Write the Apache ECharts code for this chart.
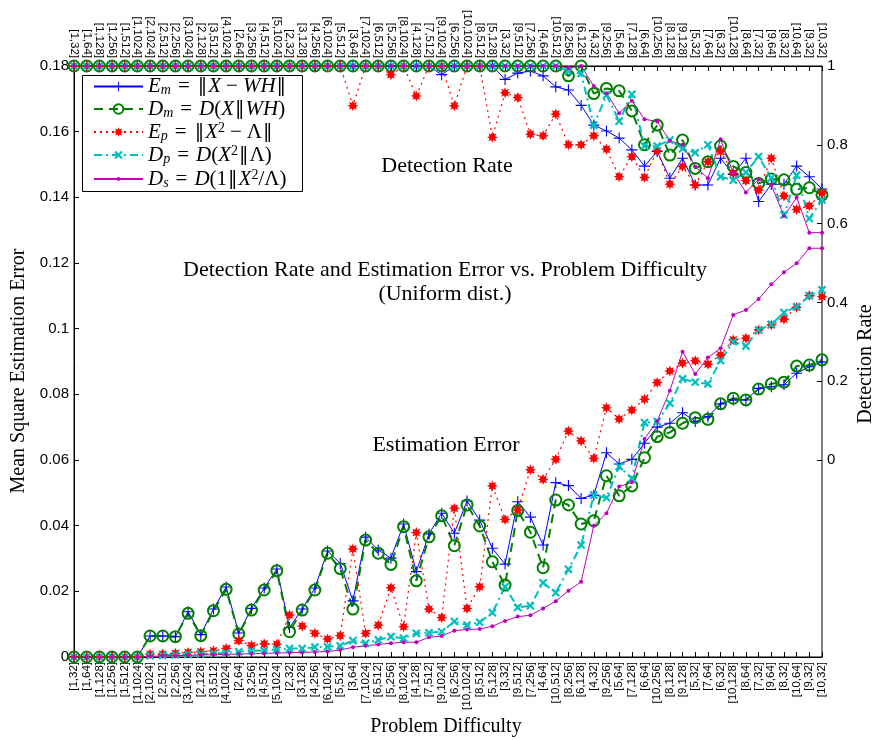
<!DOCTYPE html>
<html><head><meta charset="utf-8">
<script src="https://cdn.jsdelivr.net/npm/echarts@6/dist/echarts.min.js"></script>
<style>html,body{margin:0;padding:0;background:#fff}#c{width:876px;height:740px}</style>
</head><body><div id="c"></div>
<script>
const categories = ['[1,32]','[1,64]','[1,128]','[1,256]','[1,512]','[1,1024]','[2,1024]','[2,512]','[2,256]','[3,1024]',
'[2,128]','[3,512]','[4,1024]','[2,64]','[3,256]','[4,512]','[5,1024]','[2,32]','[3,128]','[4,256]',
'[6,1024]','[5,512]','[3,64]','[7,1024]','[6,512]','[5,256]','[8,1024]','[4,128]','[7,512]','[9,1024]',
'[6,256]','[10,1024]','[8,512]','[5,128]','[3,32]','[9,512]','[7,256]','[4,64]','[10,512]','[8,256]',
'[6,128]','[4,32]','[9,256]','[5,64]','[7,128]','[6,64]','[10,256]','[8,128]','[9,128]','[5,32]',
'[7,64]','[6,32]','[10,128]','[8,64]','[7,32]','[9,64]','[8,32]','[10,64]','[9,32]','[10,32]'];

// Mean square estimation error
const mseEm = [0,0,0,0,0,0,.0064,.0064,.0062,.0138,
.0068,.0146,.0213,.0073,.0148,.0210,.0268,.0090,.0146,.0210,
.0323,.0285,.0171,.0365,.0326,.0301,.0405,.0260,.0375,.0438,
.0377,.0475,.0417,.0331,.0283,.0473,.0426,.0341,.0531,.0522,
.0483,.0493,.0622,.0588,.0602,.0651,.0700,.0712,.0744,.0717,
.0732,.0771,.0783,.0783,.0818,.0823,.0829,.0864,.0884,.0899];
const mseDm = [0,0,0,0,0,0,.0064,.0064,.0062,.0133,
.0065,.0141,.0206,.0070,.0143,.0204,.0263,.0077,.0143,.0204,
.0316,.0269,.0146,.0356,.0316,.0282,.0397,.0232,.0366,.0430,
.0339,.0463,.0399,.0290,.0219,.0446,.0380,.0272,.0478,.0463,
.0405,.0415,.0552,.0491,.0521,.0607,.0671,.0684,.0712,.0729,
.0724,.0771,.0788,.0783,.0816,.0832,.0837,.0886,.0889,.0905];
const mseEp = [0,0,0,0,0,0,.0009,.0009,.0011,.0014,
.0016,.0019,.0026,.0050,.0035,.0040,.0039,.0128,.0094,.0072,
.0055,.0065,.0329,.0072,.0097,.0211,.0092,.0379,.0146,.0120,
.0453,.0148,.0214,.0521,.0419,.0448,.0570,.0541,.0602,.0688,
.0658,.0605,.0759,.0725,.0752,.0785,.0836,.0871,.0895,.0902,
.0892,.0920,.0966,.0971,.0996,.1011,.1029,.1065,.1101,.1097];
const mseDp = [0,0,0,0,0,0,.0004,.0005,.0006,.0008,
.0009,.0011,.0013,.0016,.0019,.0020,.0023,.0026,.0026,.0030,
.0031,.0034,.0050,.0042,.0052,.0062,.0057,.0072,.0074,.0077,
.0108,.0097,.0106,.0135,.0214,.0151,.0156,.0226,.0196,.0267,
.0341,.0493,.0485,.0580,.0544,.0714,.0717,.0773,.0847,.0837,
.0832,.0903,.0960,.0947,.0996,.1013,.1049,.1067,.1100,.1118];
const mseDs = [0,0,0,0,0,0,.0002,.0003,.0004,.0005,
.0006,.0007,.0008,.0009,.0010,.0011,.0012,.0013,.0014,.0015,
.0017,.0021,.0030,.0034,.0038,.0042,.0045,.0045,.0060,.0064,
.0080,.0084,.0085,.0094,.0110,.0123,.0127,.0148,.0170,.0202,
.0229,.0400,.0438,.0519,.0532,.0664,.0719,.0811,.0930,.0862,
.0912,.0940,.1042,.1057,.1090,.1135,.1172,.1199,.1245,.1245];

// Detection rate
const detEm = [1,1,1,1,1,1,1,1,1,1, 1,1,1,1,1,1,1,1,1,1, 1,1,1,1,1,1,1,1,1,.978,
1,1,1,1,.966,.982,.987,.975,.947,.939, .90,.85,.835,.817,.787,.746,.783,.715,.766,.698,
.698,.766,.725,.766,.656,.70,.70,.746,.719,.688];
const detDm = [1,1,1,1,1,1,1,1,1,1, 1,1,1,1,1,1,1,1,1,1, 1,1,1,1,1,1,1,1,1,1,
1,1,1,1,1,1,1,1,1,.975, 1,.93,.943,.937,.886,.80,.85,.774,.812,.740,
.757,.797,.745,.73,.702,.713,.711,.687,.691,.673];
const detEp = [1,1,1,1,1,1,1,1,1,1, 1,1,1,1,1,1,1,1,1,1, 1,1,.899,1,1,.978,1,.924,1,1,
.899,1,1,.819,.932,.920,.827,.823,.878,.80, .80,.823,.789,.719,.770,.717,.785,.700,.745,.698,
.757,.783,.728,.709,.685,.766,.670,.636,.645,.677];
const detDp = [1,1,1,1,1,1,1,1,1,1, 1,1,1,1,1,1,1,1,1,1, 1,1,1,1,1,1,1,1,1,1,
1,1,1,1,1,1,1,1,1,.986, .981,.85,.926,.86,.928,.797,.797,.812,.79,.78,
.80,.719,.71,.73,.77,.716,.622,.723,.613,.66];
const detDs = [1,1,1,1,1,1,1,1,1,1, 1,1,1,1,1,1,1,1,1,1, 1,1,1,1,1,1,1,1,1,1,
1,1,1,1,1,1,1,1,1,.995, 1,.949,.931,.88,.912,.865,.859,.81,.80,.745,
.715,.814,.729,.679,.712,.698,.619,.666,.577,.577];

const mseTicks = {min:0, max:0.18, interval:0.02};
const detTicks = {min:0, max:1, interval:0.2};

const names = ['Em','Dm','Ep','Dp','Ds'];
const legendText = {
  Em:'{i|E}{sub|m}{op|=}{bar|\u2016}{i|X}{mi|\u2212}{i|WH}{bar|\u2016}',
  Dm:'{i|D}{sub|m}{op|=}{i|D}{n|(}{i|X}{bar|\u2016}{i|WH}{n|)}',
  Ep:'{i|E}{sub|p}{op|=}{bar|\u2016}{i|X}{sup|2}{mi|\u2212}{n|\u039B}{bar|\u2016}',
  Dp:'{i|D}{sub|p}{op|=}{i|D}{n|(}{i|X}{sup|2}{bar|\u2016}{n|\u039B)}',
  Ds:'{i|D}{sub|s}{op|=}{i|D}{n|(1}{bar|\u2016}{i|X}{sup|2}{n|/\u039B)}'
};

const plusPath = 'path://M4.5,0H5.5V4.5H10V5.5H5.5V10H4.5V5.5H0V4.5H4.5Z';
const thickPlus = 'path://M3.9,0H6.1V3.9H10V6.1H6.1V10H3.9V6.1H0V3.9H3.9Z';
const starPath = 'path://M20,10L15.08,12.1L17.07,17.07L12.1,15.08L10,20L7.9,15.08L2.93,17.07L4.92,12.1L0,10L4.92,7.9L2.93,2.93L7.9,4.92L10,0L12.1,4.92L17.07,2.93L15.08,7.9Z';

const styles = {
  Em:{color:'#0000ff', lineStyle:{color:'#0000ff', width:1, type:'solid'}, symbol:plusPath, symbolSize:11, itemStyle:{color:'#0000ff'}},
  Dm:{color:'#008000', lineStyle:{color:'#008000', width:2, type:[9,6]}, symbol:'circle', symbolSize:11, itemStyle:{color:'rgba(0,0,0,0)', borderColor:'#008000', borderWidth:2}},
  Ep:{color:'#ff0000', lineStyle:{color:'#ff0000', width:1.2, type:[2,4]}, symbol:starPath, symbolSize:11, itemStyle:{color:'#ff0000'}},
  Dp:{color:'#00bfbf', lineStyle:{color:'#00bfbf', width:2, type:[8,4,2,4]}, symbol:thickPlus, symbolSize:10, symbolRotate:45, itemStyle:{color:'#00bfbf'}},
  Ds:{color:'#bf00bf', lineStyle:{color:'#bf00bf', width:1, type:'solid'}, symbol:'circle', symbolSize:4, itemStyle:{color:'#bf00bf'}}
};

const mseData = {Em:mseEm, Dm:mseDm, Ep:mseEp, Dp:mseDp, Ds:mseDs};
const detData = {Em:detEm, Dm:detDm, Ep:detEp, Dp:detDp, Ds:detDs};

function mk(name, data, xi, yi){
  const s = styles[name];
  return Object.assign({
    type:'line', name:name, data:data, xAxisIndex:xi, yAxisIndex:yi,
    clip:false, animation:false, showAllSymbol:true, symbolKeepAspect:true,
    emphasis:{disabled:true}
  }, JSON.parse(JSON.stringify(s)));
}
const series = [];
names.forEach(n => series.push(mk(n, mseData[n], 0, 0)));
names.forEach(n => series.push(mk(n, detData[n], 2, 1)));

const serif = '"Liberation Serif", "Times New Roman", serif';
const sans = '"Liberation Sans", Arial, sans-serif';
const catAxisBase = {
  type:'category', data:categories, boundaryGap:false, gridIndex:0,
  axisLine:{show:true, lineStyle:{color:'#000', width:1}},
  axisTick:{show:true, inside:true, length:5, interval:0, lineStyle:{color:'#000'}},
  axisLabel:{interval:0, rotate:90, fontSize:11.5, fontFamily:sans, color:'#000', margin:5},
  splitLine:{show:false}
};

const rich = {
  i:{fontFamily:serif, fontStyle:'italic', fontSize:21, lineHeight:22},
  n:{fontFamily:serif, fontSize:21, lineHeight:22},
  op:{fontFamily:serif, fontSize:21, lineHeight:22, padding:[0,7,0,7]},
  mi:{fontFamily:serif, fontSize:21, lineHeight:22, padding:[0,5,0,5]},
  bar:{fontFamily:'"DejaVu Serif", serif', fontSize:19, lineHeight:22, padding:[0,1,0,1]},
  sub:{fontFamily:serif, fontStyle:'italic', fontSize:14, lineHeight:13, verticalAlign:'bottom'},
  sup:{fontFamily:serif, fontSize:14, lineHeight:13, verticalAlign:'top'}
};
const legendBase = {
  orient:'vertical', left:83, itemWidth:49, itemGap:1, padding:[1,0,0,10],
  backgroundColor:'rgba(0,0,0,0)', borderWidth:0, selectedMode:false, z:5,
  formatter:(n)=>legendText[n], textStyle:{color:'#000', rich:rich}
};

const chart = echarts.init(document.getElementById('c'), null, {renderer:'canvas'});
chart.setOption({
  backgroundColor:'#fff',
  animation:false,
  grid:[
    {left:74, right:54, top:66, bottom:83, show:true, borderColor:'#000', borderWidth:1, backgroundColor:'rgba(0,0,0,0)', containLabel:false, outerBoundsMode:'none'},
    {left:74, right:54, top:66, bottom:280, show:false, containLabel:false, outerBoundsMode:'none'}
  ],
  xAxis:[
    Object.assign({}, catAxisBase, {position:'bottom'}),
    Object.assign({}, catAxisBase, {position:'top', axisLabel:Object.assign({}, catAxisBase.axisLabel, {margin:8})}),
    {type:'category', data:categories, boundaryGap:false, gridIndex:1, show:false}
  ],
  yAxis:[
    {type:'value', gridIndex:0, position:'left', min:mseTicks.min, max:mseTicks.max, interval:mseTicks.interval,
     axisLine:{show:true, lineStyle:{color:'#000'}},
     axisTick:{show:true, inside:true, length:5, lineStyle:{color:'#000'}},
     axisLabel:{fontSize:15, fontFamily:sans, color:'#000', margin:5},
     splitLine:{show:false}},
    {type:'value', gridIndex:1, position:'right', min:detTicks.min, max:detTicks.max, interval:detTicks.interval,
     axisLine:{show:false},
     axisTick:{show:true, inside:true, length:5, lineStyle:{color:'#000'}},
     axisLabel:{fontSize:15, fontFamily:sans, color:'#000', margin:5},
     splitLine:{show:false}}
  ],
  legend:[
    Object.assign({}, legendBase, {data:names.slice(0,4), top:75, itemHeight:12}),
    Object.assign({}, legendBase, {data:['Ds'], top:167, itemHeight:5})
  ],
  graphic:[
    {type:'rect', z:4, shape:{x:82.5, y:75.5, width:220, height:116}, style:{fill:'#fff', stroke:'#000', lineWidth:1}},
    {type:'text', z:100, x:447, y:166, style:{text:'Detection Rate', font:'22px '+serif, fill:'#000', align:'center', verticalAlign:'middle'}},
    {type:'text', z:100, x:445, y:270, style:{text:'Detection Rate and Estimation Error vs. Problem Difficulty', font:'22px '+serif, fill:'#000', align:'center', verticalAlign:'middle'}},
    {type:'text', z:100, x:445, y:294, style:{text:'(Uniform dist.)', font:'22px '+serif, fill:'#000', align:'center', verticalAlign:'middle'}},
    {type:'text', z:100, x:446, y:445, style:{text:'Estimation Error', font:'22px '+serif, fill:'#000', align:'center', verticalAlign:'middle'}},
    {type:'text', z:100, x:446, y:727, style:{text:'Problem Difficulty', font:'20px '+serif, fill:'#000', align:'center', verticalAlign:'middle'}},
    {type:'text', z:100, x:19, y:371, rotation:Math.PI/2, style:{text:'Mean Square Estimation Error', font:'20px '+serif, fill:'#000', align:'center', verticalAlign:'middle'}},
    {type:'text', z:100, x:866, y:364, rotation:Math.PI/2, style:{text:'Detection Rate', font:'20px '+serif, fill:'#000', align:'center', verticalAlign:'middle'}}
  ],
  series:series
});
</script>
</body></html>
